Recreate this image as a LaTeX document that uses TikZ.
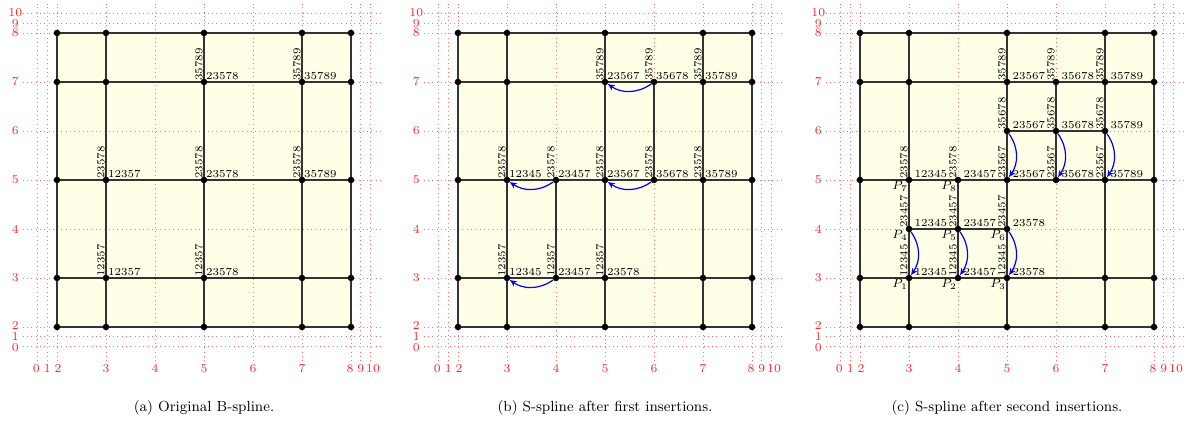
\documentclass[tikz,border=0pt]{standalone}
\usetikzlibrary{arrows.meta}
\tikzset{
 cellfill/.style={fill=yellow!10},
 knotline/.style={red!55, dotted, line width=0.5pt},
 ticklab/.style={text=red!85, font=\fontsize{7}{8}\selectfont, inner sep=0pt},
 gridline/.style={black!80, line width=0.9pt},
 dot/.style={circle, fill=black, inner sep=0pt, minimum size=3.8pt},
 vlab/.style={rotate=90, anchor=south west, inner sep=0.6pt, font=\fontsize{6.2}{7}\selectfont},
 hlab/.style={anchor=south west, inner sep=1pt, font=\fontsize{6.2}{7}\selectfont},
 hlabc/.style={hlab, xshift=2pt},
 plab/.style={anchor=north east, inner sep=0.5pt, font=\fontsize{7.5}{8}\selectfont},
 insarrow/.style={blue, line width=0.7pt, -{Stealth[length=4pt,width=3.5pt]}, bend left=35},
 caption/.style={font=\fontsize{8.5}{10}\selectfont, inner sep=0pt},
}
\newcommand{\panelbase}[1]{%
  \fill[cellfill] (2,2) rectangle (8,8);
  \foreach \p/\t/\s/\u in {1.6/0/1.58/1.58,1.8/1/1.8/1.8,2/2/2.02/2.02,3/3/3/3,4/4/4/4,5/5/5/5,6/6/6/6,7/7/7/7,8/8/7.98/8,8.2/9/8.2/8.2,8.4/10/8.45/8.42}{%
    \draw[knotline] (\p,1.3) -- (\p,8.6);
    \draw[knotline] (1.3,\p) -- (8.6,\p);
    \node[ticklab] (#1tx\t) at (\s,1.15) {\t};
    \node[ticklab] (#1ty\t) at (1.15,\u) {\t};
  }%
  \foreach \x in {2,...,8}{\foreach \y in {2,...,8}{\coordinate (#1\x\y) at (\x,\y);}}%
  \foreach \v in {2,3,5,7,8}{%
    \draw[gridline] (#1\v2) -- (#1\v8);
    \draw[gridline] (#12\v) -- (#18\v);
  }%
}
\newcommand{\fulldots}[1]{%
  \foreach \x in {2,3,5,7,8}{\foreach \y in {2,3,5,7,8}{\node[dot] (#1d\x\y) at (#1\x\y) {};}}%
}
\newcommand{\putdots}[2]{%
  \foreach \q in {#2}{\node[dot] (#1d\q) at (#1\q) {};}%
}
\newcommand{\kl}[4][hlab]{%
  \node[vlab] (#2v) at (#2) {#3};
  \node[#1] (#2h) at (#2) {#4};
}
\begin{document}
\begin{tikzpicture}
\useasboundingbox (0,0) rectangle (24.388,8.673);
% ---------- panel (a)
\begin{scope}[xshift=-0.8367cm]
\panelbase{a}
\fulldots{a}
\kl{a33}{12357}{12357}
\kl{a53}{12357}{23578}
\kl{a35}{23578}{12357}
\kl{a55}{23578}{23578}
\kl{a75}{23578}{35789}
\kl{a57}{35789}{23578}
\kl{a77}{35789}{35789}
\node[caption] (capa) at (5,0.35) {(a) Original B-spline.};
\end{scope}
% ---------- panel (b)
\begin{scope}[xshift=7.347cm]
\panelbase{b}
\draw[gridline] (b43) -- (b45);
\draw[gridline] (b65) -- (b67);
\fulldots{b}
\putdots{b}{43,45,65,67}
\kl{b33}{12357}{12345}
\kl{b43}{12357}{23457}
\kl{b53}{12357}{23578}
\kl{b35}{23578}{12345}
\kl{b45}{23578}{23457}
\kl{b55}{23578}{23567}
\kl{b65}{23578}{35678}
\kl{b75}{23578}{35789}
\kl{b57}{35789}{23567}
\kl{b67}{35789}{35678}
\kl{b77}{35789}{35789}
\draw[insarrow] (bd43) to (bd33);
\draw[insarrow] (bd45) to (bd35);
\draw[insarrow] (bd65) to (bd55);
\draw[insarrow] (bd67) to (bd57);
\node[caption] (capb) at (5,0.35) {(b) S-spline after first insertions.};
\end{scope}
% ---------- panel (c)
\begin{scope}[xshift=15.551cm]
\panelbase{c}
\draw[gridline] (c43) -- (c45);
\draw[gridline] (c65) -- (c67);
\draw[gridline] (c34) -- (c54);
\draw[gridline] (c56) -- (c76);
\fulldots{c}
\putdots{c}{43,44,45,34,54,56,65,66,67,76}
\kl[hlabc]{c33}{12345}{12345}
\kl[hlabc]{c43}{12345}{23457}
\kl[hlabc]{c53}{12345}{23578}
\kl[hlabc]{c34}{23457}{12345}
\kl[hlabc]{c44}{23457}{23457}
\kl[hlabc]{c54}{23457}{23578}
\kl[hlabc]{c35}{23578}{12345}
\kl[hlabc]{c45}{23578}{23457}
\kl[hlabc]{c55}{23567}{23567}
\kl[hlabc]{c65}{23567}{35678}
\kl[hlabc]{c75}{23567}{35789}
\kl[hlabc]{c56}{35678}{23567}
\kl[hlabc]{c66}{35678}{35678}
\kl[hlabc]{c76}{35678}{35789}
\kl[hlabc]{c57}{35789}{23567}
\kl[hlabc]{c67}{35789}{35678}
\kl[hlabc]{c77}{35789}{35789}
\node[plab] (cP1) at (c33) {$P_1$};
\node[plab] (cP2) at (c43) {$P_2$};
\node[plab] (cP3) at (c53) {$P_3$};
\node[plab] (cP4) at (c34) {$P_4$};
\node[plab] (cP5) at (c44) {$P_5$};
\node[plab] (cP6) at (c54) {$P_6$};
\node[plab] (cP7) at (c35) {$P_7$};
\node[plab] (cP8) at (c45) {$P_8$};
\draw[insarrow] (cd34) to (cd33);
\draw[insarrow] (cd44) to (cd43);
\draw[insarrow] (cd54) to (cd53);
\draw[insarrow] (cd56) to (cd55);
\draw[insarrow] (cd66) to (cd65);
\draw[insarrow] (cd76) to (cd75);
\node[caption] (capc) at (5,0.35) {(c) S-spline after second insertions.};
\end{scope}
\end{tikzpicture}
\end{document}
